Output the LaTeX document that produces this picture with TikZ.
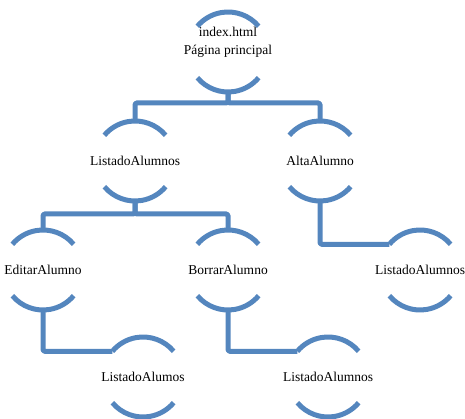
\documentclass[tikz,border=0pt]{standalone}
\usepackage{fontspec}
\setmainfont{Liberation Serif}
\usetikzlibrary{calc,positioning}
\definecolor{arcblue}{RGB}{84,134,190}

\begin{document}
\begin{tikzpicture}[x=1pt,y=1pt]
    \tikzset{every path/.style={line join=round},
      lbl/.style={font=\fontsize{13.5}{18}\selectfont,inner sep=0pt},
      unit/.style={circle,minimum size=80pt,inner sep=0pt,outer sep=0pt,label={[lbl]center:#1}},
      arcline/.style={draw=arcblue,line width=5pt},
      conn/.style={draw=arcblue,line width=5pt,rounded corners=1.5pt}}
    \useasboundingbox (0,0) rectangle (465,419);
    \node [circle,minimum size=80pt,inner sep=0pt,outer sep=0pt,
      label={[lbl,align=center,yshift=10pt]center:index.html\\Página principal}] (idx) at (228,367) {};
    \node [unit=ListadoAlumnos] (lst)    at (135,258) {};
    \node [unit=AltaAlumno]     (alta)   at (320,258) {};
    \node [unit=EditarAlumno]   (edit)   at (43,149)  {};
    \node [unit=BorrarAlumno]   (borrar) at (228,149) {};
    \node [unit=ListadoAlumnos] (lst2)   at (420,149) {};
    \node [unit=ListadoAlumos]  (lsta)   at (143,42)  {};
    \node [unit=ListadoAlumnos] (lst3)   at (328,42)  {};
    % connectors
    \draw[conn] (idx.south) -- ++(0,-11) -| (lst.north);
    \draw[conn] (idx.south) -- ++(0,-11) -| (alta.north);
    \draw[conn] (lst.south) -- ++(0,-13) -| (edit.north);
    \draw[conn] (lst.south) -- ++(0,-13) -| (borrar.north);
    \draw[conn] (alta.south) |- (lst2.140);
    \draw[conn] (edit.south) |- (lsta.140);
    \draw[conn] (borrar.south) |- (lst3.140);
    % arcs round each box
    \foreach \n in {idx,lst,alta,edit,borrar,lst2,lsta,lst3}
      \draw[arcline] (\n.40) arc[start angle=40,end angle=140,radius=40pt]
                     (\n.220) arc[start angle=220,end angle=320,radius=40pt];
\end{tikzpicture}
\end{document}
